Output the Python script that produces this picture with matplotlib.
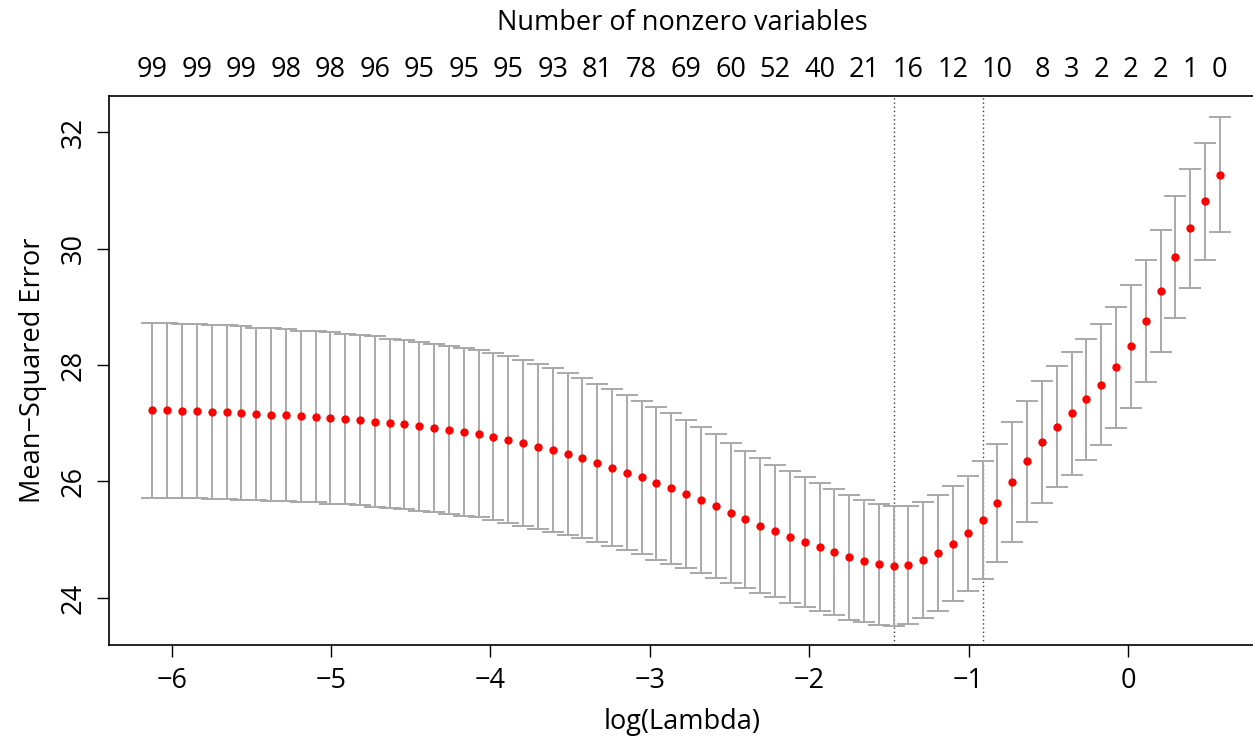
import matplotlib
matplotlib.use("Agg")
import matplotlib.pyplot as plt

# cross-validation curve (73 lambdas)
log_lambda = [
    -6.120, -6.027, -5.934, -5.841, -5.748, -5.655, -5.562, -5.469, -5.376, -5.283,
    -5.190, -5.097, -5.004, -4.911, -4.818, -4.725, -4.632, -4.539, -4.446, -4.353,
    -4.260, -4.167, -4.074, -3.981, -3.888, -3.795, -3.702, -3.609, -3.516, -3.423,
    -3.330, -3.237, -3.144, -3.051, -2.958, -2.865, -2.772, -2.679, -2.586, -2.493,
    -2.400, -2.307, -2.214, -2.121, -2.028, -1.935, -1.842, -1.749, -1.656, -1.563,
    -1.470, -1.377, -1.284, -1.191, -1.098, -1.005, -0.912, -0.819, -0.726, -0.633,
    -0.540, -0.447, -0.354, -0.261, -0.168, -0.075, 0.018, 0.111, 0.204, 0.297,
    0.390, 0.483, 0.576,
]

cv_mean = [
    27.22, 27.22, 27.21, 27.21, 27.19, 27.19, 27.18, 27.16, 27.15, 27.14,
    27.12, 27.11, 27.09, 27.07, 27.05, 27.03, 27.00, 26.98, 26.95, 26.92,
    26.89, 26.85, 26.82, 26.77, 26.72, 26.66, 26.60, 26.54, 26.47, 26.40,
    26.32, 26.24, 26.15, 26.07, 25.97, 25.88, 25.78, 25.68, 25.58, 25.46,
    25.35, 25.24, 25.15, 25.05, 24.96, 24.88, 24.79, 24.70, 24.64, 24.58,
    24.55, 24.57, 24.65, 24.77, 24.93, 25.11, 25.34, 25.63, 25.99, 26.35,
    26.68, 26.94, 27.17, 27.41, 27.66, 27.96, 28.32, 28.76, 29.27, 29.85,
    30.35, 30.81, 31.27,
]

cv_sd = [
    1.50, 1.50, 1.50, 1.50, 1.49, 1.49, 1.49, 1.48, 1.48, 1.48,
    1.47, 1.47, 1.47, 1.46, 1.46, 1.46, 1.45, 1.45, 1.45, 1.44,
    1.44, 1.44, 1.43, 1.43, 1.43, 1.42, 1.41, 1.40, 1.39, 1.37,
    1.36, 1.35, 1.33, 1.32, 1.31, 1.29, 1.27, 1.25, 1.23, 1.20,
    1.18, 1.16, 1.14, 1.13, 1.12, 1.10, 1.08, 1.07, 1.05, 1.04,
    1.03, 1.01, 0.99, 0.99, 0.99, 0.99, 1.01, 1.01, 1.03, 1.04,
    1.05, 1.04, 1.05, 1.04, 1.04, 1.04, 1.05, 1.05, 1.05, 1.05,
    1.02, 1.01, 0.99,
]

idx_min = 50
idx_1se = 56

# number of nonzero variables shown on the top axis (the rest overlap in R)
nz_idx = [0, 3, 6, 9, 12, 15, 18, 21, 24, 27, 30, 33, 36, 39, 42, 45, 48, 51, 54, 57,
          60, 62, 64, 66, 68, 70, 72]
nz_labels = ["99", "99", "99", "98", "98", "96", "95", "95", "95", "93", "81", "78",
             "69", "60", "52", "40", "21", "16", "12", "10", "8", "3", "2", "2", "2",
             "1", "0"]

x_ticks = [-6, -5, -4, -3, -2, -1, 0]
y_ticks = [24, 26, 28, 30, 32]

plt.rcParams['font.family'] = ['Open Sans', 'DejaVu Sans']
plt.rcParams['font.size'] = 19.5

fig = plt.figure(figsize=(12.53, 7.40), dpi=100)
ax = fig.add_axes([0.087, 0.1284, 0.915, 0.7412])

ax.errorbar(log_lambda, cv_mean, yerr=cv_sd, fmt='none', ecolor='#A9A9A9',
            elinewidth=1.4, capsize=7.8, capthick=1.4, zorder=2)
ax.plot(log_lambda, cv_mean, 'o', color='red', ms=6, mec='none', zorder=3)

for i in (idx_min, idx_1se):
    ax.axvline(log_lambda[i], color='0.25', lw=1.0, ls=(0, (1, 2)), zorder=1)

ax.set_xlim(-6.3925, 0.80)
ax.set_ylim(23.193, 32.61)
ax.set_xticks(x_ticks)
ax.set_yticks(y_ticks)
ax.set_yticklabels([str(v) for v in y_ticks], rotation=90, va='center')
ax.tick_params(direction='out', length=8.5, width=1.0, pad=7, colors='black')
ax.spines['right'].set_visible(False)
for s in ('left', 'bottom', 'top'):
    ax.spines[s].set_linewidth(1.2)

ax.set_xlabel("log(Lambda)", labelpad=10)
ax.set_ylabel("Mean\u2212Squared Error", labelpad=9)

top = ax.twiny()
top.set_xlim(ax.get_xlim())
top.set_xticks([log_lambda[i] for i in nz_idx])
top.set_xticklabels(nz_labels)
top.tick_params(length=0, pad=9)
for s in top.spines.values():
    s.set_visible(False)
top.set_xlabel("Number of nonzero variables", labelpad=19)

fig.savefig("out.png", dpi=100)
